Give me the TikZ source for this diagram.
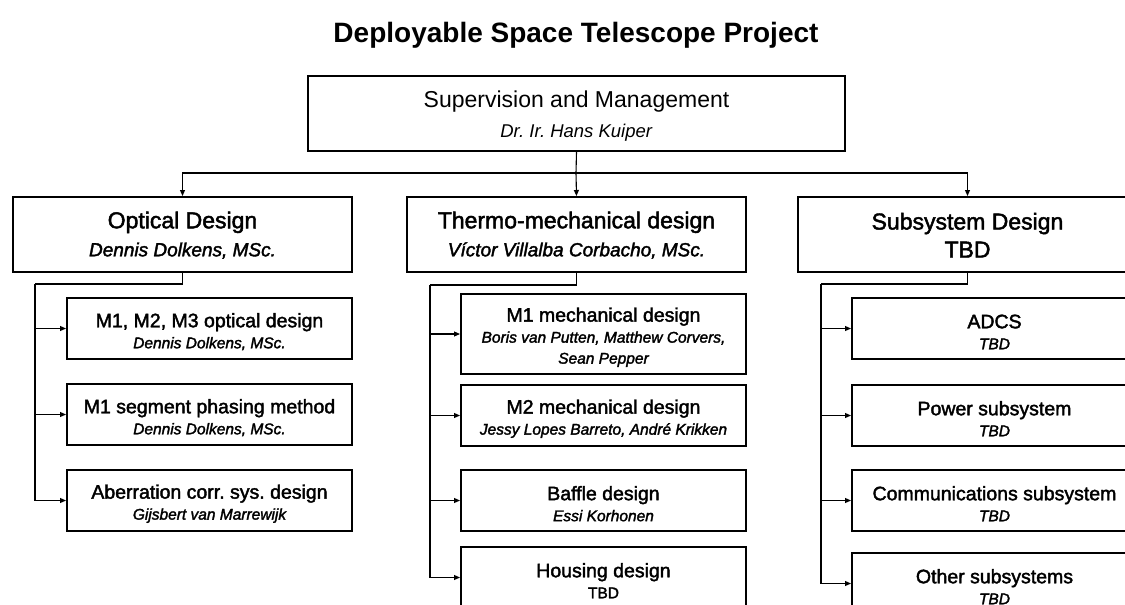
\documentclass[tikz,border=0pt]{standalone}
\usepackage{fontspec}
\setmainfont{Liberation Sans}
\newfontfamily\medfont[FakeBold=2]{Liberation Sans}
\usetikzlibrary{arrows.meta}
\frenchspacing

% text helpers for the two kinds of boxes (the struts push the text block down a little)
\newcommand\lhead[1]{{\medfont\fontsize{23}{28}\selectfont\rule{0pt}{18pt}#1}}
\newcommand\lname[1]{{\medfont\itshape\fontsize{19}{28}\selectfont #1}}
\newcommand\chead[1]{{\medfont\fontsize{19.5}{21}\selectfont\rule{0pt}{20.5pt}#1}}
\newcommand\cname[1]{{\medfont\itshape\fontsize{15.5}{21}\selectfont #1}}

\begin{document}
\begin{tikzpicture}[x=1pt,y=-1pt,
  box/.style={draw, line width=2pt, inner sep=0pt, anchor=north west, align=center},
  topbox/.style={box, minimum width=537pt, minimum height=75pt, font=\fontsize{18.5}{30}\selectfont},
  lvl/.style={box, minimum width=339pt, minimum height=75pt, font=\fontsize{19}{28}\selectfont},
  leaf/.style={box, minimum width=285pt, minimum height=61pt, font=\fontsize{15.5}{21}\selectfont},
  wire/.style={line width=1.1pt},
  link/.style={wire, -{Triangle[length=6pt,width=5pt]}}]

\useasboundingbox (0,0) rectangle (1125,605);
\clip (0,0) rectangle (1125,605);

% title
\node[anchor=base, font=\bfseries\fontsize{28}{32}\selectfont] (title) at (576,42)
  {Deployable Space Telescope Project};

% management
\node[topbox] (top) at (307,75)
  {{\fontsize{23}{30}\selectfont\rule{0pt}{22.5pt}Supervision and Management}\\ \textit{Dr. Ir. Hans Kuiper}};

% work packages
\node[lvl] (opt) at (12,196)  {\lhead{Optical Design}\\ \lname{Dennis Dolkens, MSc.}};
\node[lvl] (thm) at (406,196) {\lhead{Thermo-mechanical design}\\ \lname{Víctor Villalba Corbacho, MSc.}};
\node[lvl] (sub) at (797,196) {\lhead{Subsystem Design}\\ \lhead{TBD}};

% optical tasks
\node[leaf] (o1) at (66,297) {\chead{M1, M2, M3 optical design}\\ \cname{Dennis Dolkens, MSc.}};
\node[leaf] (o2) at (66,383) {\chead{M1 segment phasing method}\\ \cname{Dennis Dolkens, MSc.}};
\node[leaf] (o3) at (66,469) {\chead{Aberration corr. sys. design}\\ \cname{Gijsbert van Marrewijk}};

% thermo-mechanical tasks
\node[leaf, minimum height=80pt] (t1) at (460,293)
  {\chead{M1 mechanical design}\\ \cname{Boris van Putten, Matthew Corvers,}\\ \cname{Sean Pepper}};
\node[leaf] (t2) at (460,384) {\chead{M2 mechanical design}\\ \cname{Jessy Lopes Barreto, André Krikken}};
\node[leaf] (t3) at (460,469) {\chead{Baffle design}\\ \cname{Essi Korhonen}};
\node[leaf] (t4) at (460,546) {\chead{Housing design}\\ {\medfont\fontsize{15.5}{21}\selectfont TBD}};

% subsystem tasks
\node[leaf] (s1) at (851,297) {\chead{ADCS}\\ \cname{TBD}};
\node[leaf] (s2) at (851,384) {\chead{Power subsystem}\\ \cname{TBD}};
\node[leaf] (s3) at (851,469) {\chead{Communications subsystem}\\ \cname{TBD}};
\node[leaf] (s4) at (851,552) {\chead{Other subsystems}\\ \cname{TBD}};

% distribution lines
\coordinate (hub) at (576,173);
\draw[wire] (top.south) -- (hub);
\draw[link] (hub) -| (opt.north);
\draw[link] (hub) -- (thm.north);
\draw[link] (hub) -| (sub.north);

\coordinate (obus) at (35,284);
\coordinate (tbus) at (430,285);
\coordinate (sbus) at (821,284);
\draw[wire] (opt.south) |- (obus);
\draw[wire] (thm.south) |- (tbus);
\draw[wire] (sub.south) |- (sbus);

\foreach \c in {o1,o2,o3} \draw[link] (obus) |- (\c.west);
\foreach \c in {t1,t2,t3,t4} \draw[link] (tbus) |- (\c.west);
\foreach \c in {s1,s2,s3,s4} \draw[link] (sbus) |- (\c.west);
\end{tikzpicture}
\end{document}
